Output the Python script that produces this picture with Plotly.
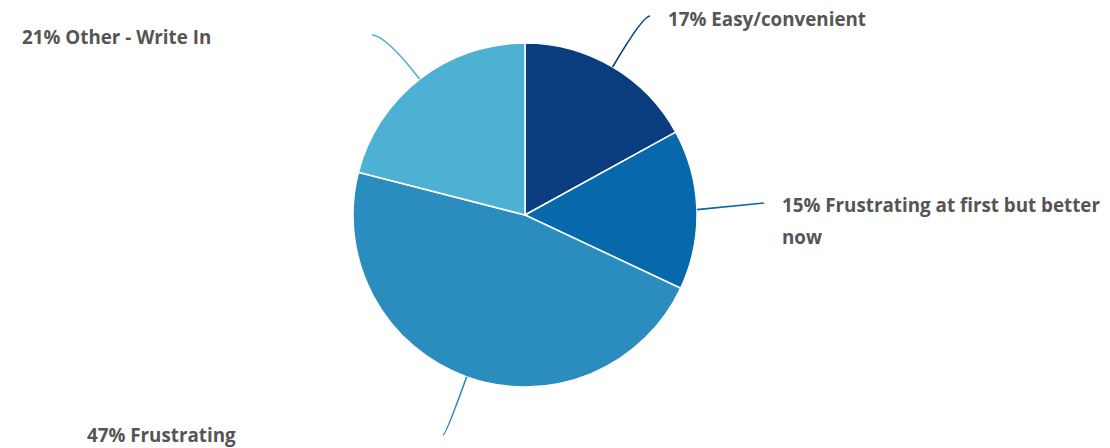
import math
import plotly.graph_objects as go

# Survey responses
categories = ["Easy/convenient", "Frustrating at first but better now", "Frustrating", "Other - Write In"]
shares = [17, 15, 47, 21]
colors = ["#0a3d7e", "#0768ab", "#2b8dbe", "#4eb1d3"]

W, H = 1110, 448
CX, CY, R = 525, 215, 172  # pie centre and radius in pixels

# Where each label's leader line ends (pixels) and how its text is placed
label_ends = [(650, 16), (764, 203), (443, 435), (372, 35)]
label_text_pos = [
    [(667, 19, "left")],
    [(781, 205, "left"), (781, 237, "left")],
    [(237, 435, "right")],
    [(212, 37, "right")],
]
label_lines = [
    ["17% Easy/convenient"],
    ["15% Frustrating at first but better", "now"],
    ["47% Frustrating"],
    ["21% Other - Write In"],
]

fig = go.Figure()

fig.add_trace(go.Pie(
    labels=categories,
    values=shares,
    sort=False,
    direction="clockwise",
    rotation=0,
    marker=dict(colors=colors, line=dict(color="white", width=1.5)),
    textinfo="none",
    hoverinfo="label+percent",
    showlegend=False,
    domain=dict(x=[0, 2 * CX / W], y=[(H - CY - R) / H, (H - CY + R) / H]),
))

# Leader lines: start on the rim at each slice's mid-angle, run radially,
# then bend to meet the label.
total = sum(shares)
cum = 0
shapes = []
for i, v in enumerate(shares):
    mid = (cum + v / 2) / total * 2 * math.pi
    cum += v
    dx, dy = math.sin(mid), -math.cos(mid)
    sx, sy = CX + R * dx, CY + R * dy
    ex, ey = label_ends[i]
    if abs(dy) > 0.2:
        t = (ey - sy) / dy
        qx, qy = sx + dx * t, ey
    else:
        qx, qy = (sx + ex) / 2, (sy + ey) / 2
    path = f"M {sx:.1f},{sy:.1f} Q {qx:.1f},{qy:.1f} {ex:.1f},{ey:.1f}"
    shapes.append(dict(type="path", path=path, xref="x", yref="y",
                       line=dict(color=colors[i], width=1.6), layer="above"))

annotations = []
for lines, poss in zip(label_lines, label_text_pos):
    for txt, (x, y, anchor) in zip(lines, poss):
        annotations.append(dict(
            x=x, y=y, xref="x", yref="y", text=txt, showarrow=False,
            xanchor=anchor, yanchor="middle", borderpad=0,
            font=dict(family="Open Sans", size=18.8, color="#555555", weight="bold"),
        ))

fig.update_layout(
    width=W, height=H,
    margin=dict(l=0, r=0, t=0, b=0),
    paper_bgcolor="white", plot_bgcolor="rgba(0,0,0,0)",
    xaxis=dict(range=[0, W], visible=False, fixedrange=True, domain=[0, 1]),
    yaxis=dict(range=[H, 0], visible=False, fixedrange=True, domain=[0, 1]),
    shapes=shapes,
    annotations=annotations,
)

fig.write_html("out.html")
